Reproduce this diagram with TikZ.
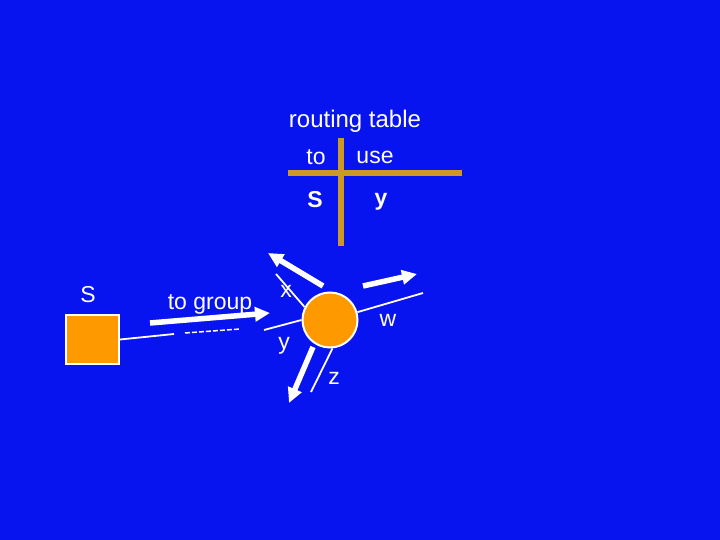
\documentclass[tikz,border=0pt]{standalone}
\usepackage{fontspec}
\setmainfont{Liberation Sans}
\usetikzlibrary{arrows.meta}
\definecolor{bg}{RGB}{8,20,240}
\definecolor{org}{RGB}{255,153,0}
\definecolor{gold}{RGB}{204,153,34}
\tikzset{
  lbl/.style={text=white, font=\fontsize{23}{27}\selectfont, inner sep=0pt},
  link/.style={draw=white, line width=1.8pt},
  bigarrow/.style={draw=white, line width=5.5pt, -{Triangle[length=15pt,width=14pt]}},
  tline/.style={draw=gold, line width=6pt}
}
\begin{document}
\begin{tikzpicture}[x=1pt,y=-1pt]
\fill[bg] (0,0) rectangle (720,540);
\useasboundingbox (0,0) rectangle (720,540);
% routing table
\node[lbl, font=\fontsize{24}{28}\selectfont] (title) at (355,121) {routing table};
\coordinate (hL) at (288,173); \coordinate (hR) at (462,173);
\coordinate (vT) at (341,138); \coordinate (vB) at (341,246);
\draw[tline] (hL) -- (hR);
\draw[tline] (vT) -- (vB);
\node[lbl] (hto) at (316,157) {to};
\node[lbl] (huse) at (375,157) {use};
\node[lbl, font=\fontsize{23}{27}\selectfont\bfseries] (rS) at (315,200) {S};
\node[lbl, font=\fontsize{23}{27}\selectfont\bfseries] (ry) at (381,202) {y};
% source
\node[draw=white, line width=2pt, fill=org, minimum width=53pt, minimum height=49pt, inner sep=0pt] (src) at (92.5,339.5) {};
\node[lbl] (sl) at (88,295) {S};
% router
\node[draw=white, line width=2pt, fill=org, circle, minimum size=55pt, inner sep=0pt] (rtr) at (330,320) {};
% links
\coordinate (d1) at (174,334);
\coordinate (d2) at (185,333);
\coordinate (d3) at (240,329);
\coordinate (ye) at (264,330);
\draw[link] (src.east) -- (d1);
\draw[link, dash pattern=on 5pt off 2pt, line width=1.5pt] (d2) -- (d3);
\draw[link] (ye) -- (rtr.west);
\coordinate (xe) at (276,274);
\draw[link] (xe) -- (rtr.153);
\coordinate (we) at (423,293);
\draw[link] (rtr.16) -- (we);
\coordinate (ze) at (311,392);
\draw[link] (rtr.-85) -- (ze);
% labels
\node[lbl] (tg) at (210,304) {to group};
\node[lbl] (lx) at (286,291) {x};
\node[lbl] (ly) at (284,346) {y};
\node[lbl] (lw) at (388,320) {w};
\node[lbl] (lz) at (334,378) {z};
% arrows
\coordinate (a1s) at (150,323); \coordinate (a1e) at (270,313);
\draw[bigarrow] (a1s) -- (a1e);
\coordinate (a2s) at (323,286); \coordinate (a2e) at (268,253);
\draw[bigarrow] (a2s) -- (a2e);
\coordinate (a3s) at (363,286); \coordinate (a3e) at (417,274);
\draw[bigarrow] (a3s) -- (a3e);
\coordinate (a4s) at (313,347); \coordinate (a4e) at (289,403);
\draw[bigarrow] (a4s) -- (a4e);
\end{tikzpicture}
\end{document}
